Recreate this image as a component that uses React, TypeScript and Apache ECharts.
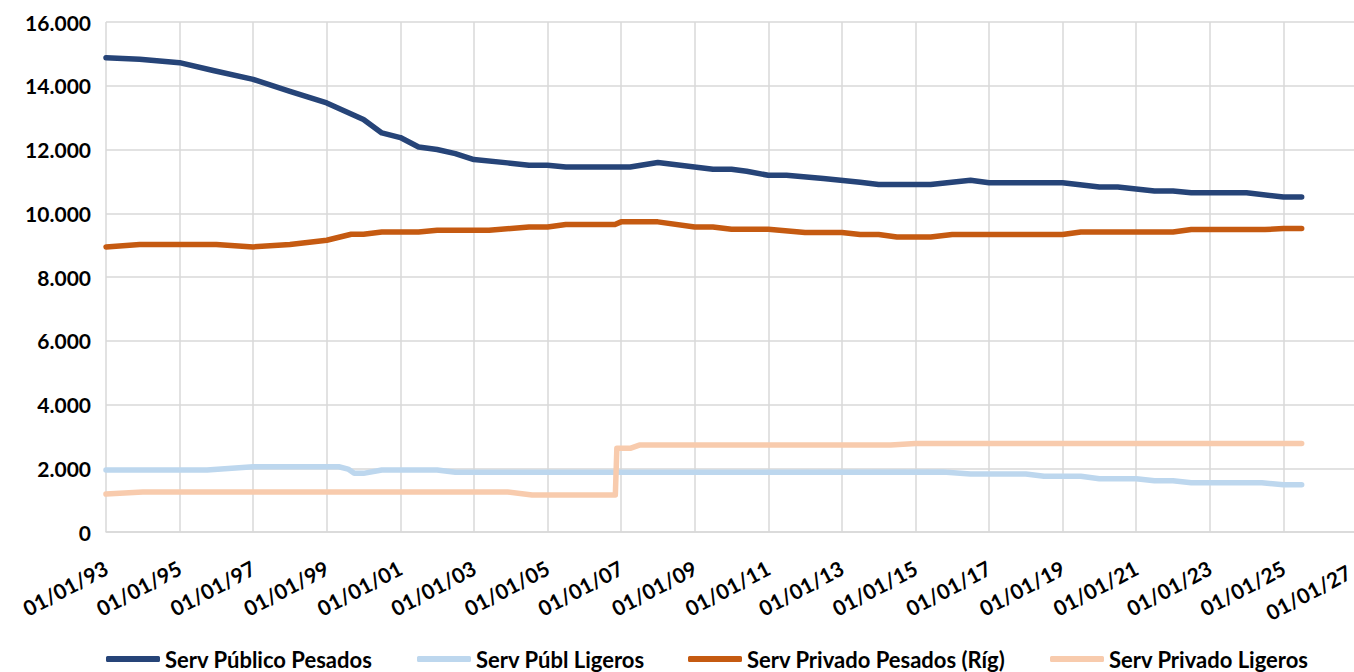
import React, { useEffect, useRef } from "react";
import * as echarts from "echarts";

// Dates (YYYY-MM-DD) and values for each series
const pubPesadosDates = ["1993-01-01","1993-12-01","1995-01-01","1995-12-01","1997-01-01","1998-01-01","1999-01-01","2000-01-01","2000-07-01","2001-01-01","2001-07-01","2002-01-01","2002-07-01","2003-01-01","2003-12-01","2004-07-01","2005-01-01","2005-07-01","2007-04-01","2008-01-01","2009-07-01","2010-01-01","2010-06-01","2011-01-01","2011-07-01","2012-07-01","2013-07-01","2014-01-01","2015-06-01","2016-07-01","2017-01-01","2019-01-01","2020-01-01","2020-07-01","2021-07-01","2022-01-01","2022-07-01","2024-01-01","2025-01-01","2025-07-01"];
const pubPesadosValues = [14880,14830,14725,14480,14200,13825,13460,12940,12520,12375,12080,12000,11870,11685,11580,11505,11505,11450,11450,11590,11380,11380,11318,11190,11190,11090,10970,10900,10900,11035,10960,10960,10825,10825,10700,10700,10640,10640,10510,10510];

const pubLigerosDates = ["1993-01-01","1995-10-01","1997-01-01","1999-05-01","1999-08-01","1999-10-01","2000-01-01","2000-07-01","2002-01-01","2002-07-01","2015-10-01","2016-07-01","2018-01-01","2018-07-01","2019-07-01","2020-01-01","2021-01-01","2021-07-01","2022-01-01","2022-07-01","2024-06-01","2025-01-01","2025-07-01"];
const pubLigerosValues = [1944,1944,2047,2047,1975,1840,1840,1944,1944,1875,1880,1818,1818,1746,1746,1671,1671,1608,1608,1546,1546,1483,1483];

const privPesadosDates = ["1993-01-01","1993-12-01","1996-01-01","1997-01-01","1998-01-01","1999-01-01","1999-09-01","2000-01-01","2000-07-01","2001-07-01","2002-01-01","2003-06-01","2004-07-01","2005-01-01","2005-07-01","2006-11-01","2007-01-01","2008-01-01","2009-01-01","2009-07-01","2010-01-01","2011-01-01","2012-01-01","2013-01-01","2013-07-01","2014-01-01","2014-07-01","2015-06-01","2016-01-01","2019-01-01","2019-07-01","2022-01-01","2022-07-01","2024-07-01","2025-01-01","2025-07-01"];
const privPesadosValues = [8944,9020,9020,8944,9020,9154,9342,9342,9414,9414,9468,9468,9571,9571,9646,9646,9730,9730,9571,9571,9500,9500,9395,9395,9333,9333,9258,9258,9333,9333,9414,9414,9490,9490,9520,9520];

const privLigerosDates = ["1993-01-01","1994-01-01","2003-12-01","2004-08-01","2006-11-05","2006-11-20","2007-04-01","2007-07-01","2014-05-01","2015-01-01","2025-07-01"];
const privLigerosValues = [1191,1254,1254,1160,1160,2624,2624,2727,2727,2780,2780];

const seriesNames = ["Serv Público Pesados", "Serv Públ Ligeros", "Serv Privado Pesados (Ríg)", "Serv Privado Ligeros"];
const seriesColors = ["#264478", "#BDD7EE", "#C55A11", "#F8CBAD"];
const legendLefts = [106, 417, 688, 1050];

const START_YEAR = 1993;
const END_YEAR = 2027;
const YEAR_STEP = 2;
const Y_MAX = 16000;
const Y_STEP = 2000;

const FONT = "Lato";

function toYears(d: string): number {
  const [y, m, day] = d.split("-").map(Number);
  const t = Date.UTC(y, m - 1, day);
  const t0 = Date.UTC(START_YEAR, 0, 1);
  return (t - t0) / (365.2425 * 86400000);
}

function pairs(dates: string[], vals: number[]) {
  return dates.map((d, i) => [toYears(d), vals[i]]);
}

export default function App() {
  const ref = useRef<HTMLDivElement>(null);
  useEffect(() => {
    if (!ref.current) return;
    const chart = echarts.init(ref.current, undefined, { renderer: "svg" });
    const datasets = [
      pairs(pubPesadosDates, pubPesadosValues),
      pairs(pubLigerosDates, pubLigerosValues),
      pairs(privPesadosDates, privPesadosValues),
      pairs(privLigerosDates, privLigerosValues),
    ];
    const textStyle = { fontFamily: FONT, fontWeight: "bold" as const, fontSize: 21, color: "#000" };
    const span = END_YEAR - START_YEAR;
    chart.setOption({
      animation: false,
      grid: { left: 106, right: 3, top: 22, bottom: 140, containLabel: false },
      xAxis: {
        type: "value",
        min: 0,
        max: span,
        interval: YEAR_STEP,
        axisLine: { show: true, lineStyle: { color: "#D9D9D9", width: 1.5 } },
        axisTick: { show: false },
        splitLine: { show: true, lineStyle: { color: "#D9D9D9", width: 1.5 } },
        axisLabel: {
          ...textStyle,
          rotate: 28,
          margin: 34,
          formatter: (v: number) => {
            const s = "01/01/" + String((START_YEAR + Math.round(v)) % 100).padStart(2, "0");
            return Math.round(v) === span ? "{e|" + s + "}" : s;
          },
          rich: { e: { ...textStyle, padding: [0, 9, 0, 0] } },
        },
      },
      yAxis: {
        type: "value",
        min: 0,
        max: Y_MAX,
        interval: Y_STEP,
        axisLine: { show: false },
        axisTick: { show: false },
        splitLine: { show: true, lineStyle: { color: "#D9D9D9", width: 1.5 } },
        axisLabel: {
          ...textStyle,
          margin: 15,
          formatter: (v: number) => (v === 0 ? "0" : (v / 1000).toFixed(3)),
        },
      },
      legend: seriesNames.map((n, i) => ({
        data: [n],
        left: legendLefts[i],
        top: 648,
        padding: 0,
        icon: "roundRect",
        itemWidth: 54,
        itemHeight: 6,
        textStyle: { ...textStyle, fontSize: 22, lineHeight: 20 },
      })),
      series: seriesNames.map((n, i) => ({
        name: n,
        type: "line",
        data: datasets[i],
        showSymbol: false,
        symbol: "none",
        color: seriesColors[i],
        lineStyle: { width: 5.5, color: seriesColors[i], cap: "round", join: "round" },
      })),
    });
    return () => chart.dispose();
  }, []);
  return (
    <div style={{ position: "fixed", left: 0, top: 0, width: 1354, height: 672, overflow: "hidden", background: "#fff" }}>
      <div ref={ref} style={{ width: 1360, height: 672 }} />
    </div>
  );
}
